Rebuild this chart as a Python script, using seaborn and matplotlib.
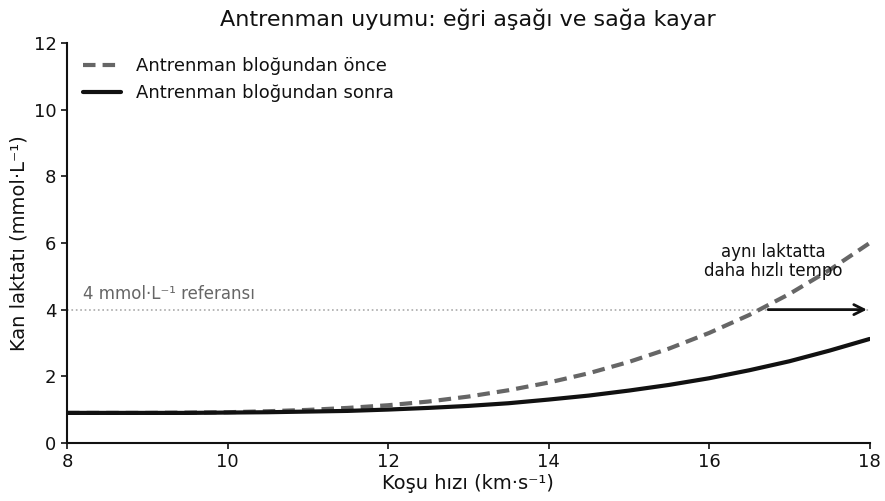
import matplotlib
matplotlib.use("Agg")
import matplotlib.pyplot as plt
import seaborn as sns
import pandas as pd

speed = [8.0, 8.5, 9.0, 9.5, 10.0, 10.5, 11.0, 11.5, 12.0, 12.5, 13.0,
         13.5, 14.0, 14.5, 15.0, 15.5, 16.0, 16.5, 17.0, 17.5, 18.0]
before = [0.90, 0.90, 0.90, 0.91, 0.92, 0.95, 0.99, 1.05, 1.13, 1.24, 1.39,
          1.58, 1.81, 2.09, 2.43, 2.83, 3.30, 3.84, 4.47, 5.19, 6.00]
after = [0.90, 0.90, 0.90, 0.90, 0.91, 0.92, 0.94, 0.96, 1.00, 1.05, 1.11,
         1.19, 1.30, 1.42, 1.57, 1.74, 1.94, 2.18, 2.45, 2.77, 3.12]
labels = ["Antrenman bloğundan önce", "Antrenman bloğundan sonra"]
ref_level = 4.0
shift_start = 16.7
shift_end = 18.0

sns.set_theme(style="ticks", rc={
    "text.color": "#111111", "axes.labelcolor": "#111111",
    "xtick.color": "#111111", "ytick.color": "#111111",
    "axes.edgecolor": "#111111",
})
plt.rcParams['font.family'] = ['DejaVu Sans']

df = pd.DataFrame({
    "speed": speed * 2,
    "lactate": before + after,
    "phase": [labels[0]] * len(speed) + [labels[1]] * len(speed),
})

fig = plt.figure(figsize=(8.85, 5.01), dpi=100)
ax = fig.add_axes([0.0757, 0.116, 0.907, 0.798])

sns.lineplot(data=df, x="speed", y="lactate", hue="phase", style="phase",
             palette={labels[0]: "#666666", labels[1]: "#111111"},
             dashes={labels[0]: (3.0, 1.7), labels[1]: ""},
             linewidth=3, ax=ax)

ax.axhline(ref_level, color="#aaaaaa", linestyle=":", linewidth=1.2, zorder=0)
ax.text(8.2, ref_level + 0.2, "4 mmol·L⁻¹ referansı", color="#666666",
        fontsize=12, ha="left", va="bottom")
ax.annotate("", xy=(shift_end, ref_level), xytext=(shift_start, ref_level),
            arrowprops=dict(arrowstyle="->", color="#111111", lw=2,
                            mutation_scale=18))
ax.text(16.8, 4.9, "aynı laktatta\ndaha hızlı tempo", ha="center",
        va="bottom", fontsize=12, color="#111111", linespacing=1.05)

ax.set_xlim(8, 18)
ax.set_ylim(0, 12)
ax.set_xticks([8, 10, 12, 14, 16, 18])
ax.set_yticks([0, 2, 4, 6, 8, 10, 12])
ax.tick_params(labelsize=13, width=1.2, length=4)
ax.set_xlabel("Koşu hızı (km·s⁻¹)", fontsize=14, labelpad=2)
ax.set_ylabel("Kan laktatı (mmol·L⁻¹)", fontsize=14)
ax.set_title("Antrenman uyumu: eğri aşağı ve sağa kayar", fontsize=16, pad=12)
sns.despine(ax=ax)
for s in ["left", "bottom"]:
    ax.spines[s].set_linewidth(1.5)

leg = ax.legend(loc="upper left", frameon=False, fontsize=13,
                handlelength=2.1, handletextpad=0.8,
                bbox_to_anchor=(0.0, 1.005))
for line in leg.get_lines():
    line.set_linewidth(3)

fig.savefig("out.png", dpi=100)
